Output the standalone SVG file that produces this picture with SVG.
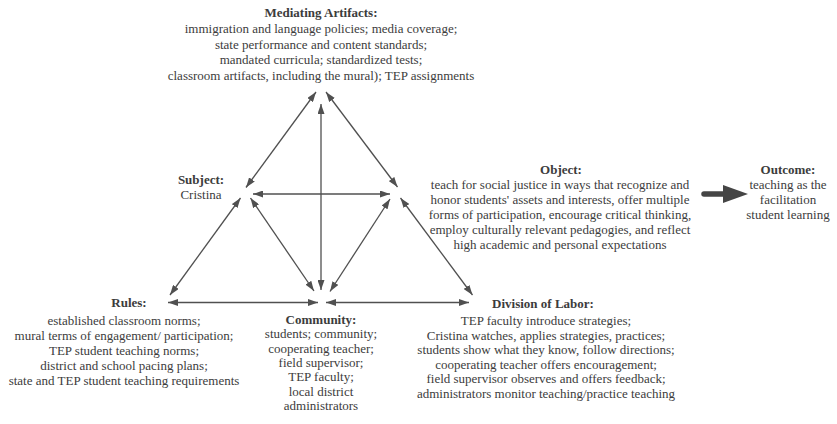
<svg xmlns="http://www.w3.org/2000/svg" width="837" height="424" viewBox="0 0 837 424">
  <style>
    text { font-family: "Liberation Serif", "Times New Roman", serif; font-size: 13px; fill: #3c3c3c; text-anchor: middle; }
    .title { font-weight: bold; }
    .link { stroke: #505050; stroke-width: 1.3; fill: none; marker-start: url(#head); marker-end: url(#head); }
  </style>
  <defs>
    <marker id="head" viewBox="0 0 10 7" refX="10" refY="3.5" markerUnits="userSpaceOnUse" markerWidth="10" markerHeight="7" orient="auto-start-reverse">
      <path d="M0,0 L10,3.5 L0,7 z" fill="#505050"/>
    </marker>
  </defs>
  <rect width="837" height="424" fill="#ffffff"/>

  <g id="connectors">
    <line class="link" x1="316" y1="92" x2="246" y2="187.5"/>
    <line class="link" x1="326" y1="92" x2="397.5" y2="187"/>
    <line class="link" x1="321" y1="104" x2="321" y2="290"/>
    <line class="link" x1="253" y1="194" x2="390" y2="194"/>
    <line class="link" x1="240.5" y1="198" x2="170" y2="295"/>
    <line class="link" x1="250.5" y1="198" x2="314" y2="291"/>
    <line class="link" x1="390" y1="199" x2="330" y2="291.5"/>
    <line class="link" x1="400.5" y1="198" x2="472.5" y2="295"/>
    <line class="link" x1="168" y1="302.5" x2="318" y2="302.5"/>
    <line class="link" x1="326" y1="302.5" x2="469" y2="302.5"/>
    <!-- object to outcome -->
    <line x1="704" y1="194" x2="725" y2="194" stroke="#454545" stroke-width="5.5" stroke-linecap="round"/>
    <polygon points="723,185 748,194 723,203" fill="#454545"/>
  </g>

  <g id="mediating-artifacts">
    <text class="title" x="321" y="17">Mediating Artifacts:</text>
    <text x="321" y="33">immigration and language policies; media coverage;</text>
    <text x="321" y="48.7">state performance and content standards;</text>
    <text x="321" y="64.4">mandated curricula; standardized tests;</text>
    <text x="321" y="80.1">classroom artifacts, including the mural); TEP assignments</text>
  </g>

  <g id="subject">
    <text class="title" x="201" y="184">Subject:</text>
    <text x="201" y="199">Cristina</text>
  </g>

  <g id="object">
    <text class="title" x="561" y="174">Object:</text>
    <text x="560" y="189">teach for social justice in ways that recognize and</text>
    <text x="560" y="204">honor students' assets and interests, offer multiple</text>
    <text x="560" y="219">forms of participation, encourage critical thinking,</text>
    <text x="560" y="234">employ culturally relevant pedagogies, and reflect</text>
    <text x="560" y="249">high academic and personal expectations</text>
  </g>

  <g id="outcome">
    <text class="title" x="788" y="174">Outcome:</text>
    <text x="788" y="189">teaching as the</text>
    <text x="788" y="204">facilitation</text>
    <text x="788" y="219">student learning</text>
  </g>

  <g id="rules">
    <text class="title" x="129" y="307">Rules:</text>
    <text x="124" y="325">established classroom norms;</text>
    <text x="124" y="340">mural terms of engagement/ participation;</text>
    <text x="124" y="355">TEP student teaching norms;</text>
    <text x="124" y="370">district and school pacing plans;</text>
    <text x="124" y="385">state and TEP student teaching requirements</text>
  </g>

  <g id="community">
    <text class="title" x="321" y="323.5">Community:</text>
    <text x="321" y="338">students; community;</text>
    <text x="321" y="352.5">cooperating teacher;</text>
    <text x="321" y="367">field supervisor;</text>
    <text x="321" y="381">TEP faculty;</text>
    <text x="321" y="395.5">local district</text>
    <text x="321" y="410">administrators</text>
  </g>

  <g id="division-of-labor">
    <text class="title" x="543" y="307.5">Division of Labor:</text>
    <text x="546" y="325">TEP faculty introduce strategies;</text>
    <text x="546" y="339.5">Cristina watches, applies strategies, practices;</text>
    <text x="546" y="354">students show what they know, follow directions;</text>
    <text x="546" y="368.5">cooperating teacher offers encouragement;</text>
    <text x="546" y="383">field supervisor observes and offers feedback;</text>
    <text x="546" y="397.5">administrators monitor teaching/practice teaching</text>
  </g>
</svg>
